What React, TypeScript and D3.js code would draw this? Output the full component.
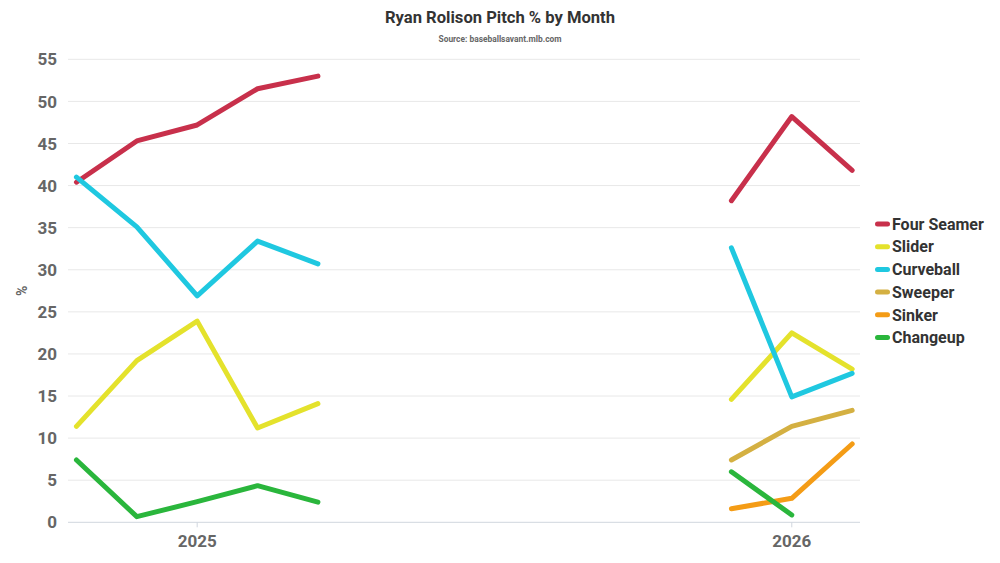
import React from "react";
import * as d3 from "d3";

// x positions: month index along a continuous axis (2025 season, then 2026 season)
const months2025 = [0, 1, 2, 3, 4];
const months2026 = [10.85, 11.85, 12.85];
const yearTicks = [2, 11.85];
const yearLabels = ["2025", "2026"];
const yTicks = [0, 5, 10, 15, 20, 25, 30, 35, 40, 45, 50, 55];

const seriesNames = ["Four Seamer", "Slider", "Curveball", "Sweeper", "Sinker", "Changeup"];
const seriesColors = ["#c8304b", "#e4e22c", "#1fc8e0", "#d4b042", "#f49c16", "#2ab63c"];

const fourSeamer2025 = [40.4, 45.3, 47.2, 51.5, 53.0];
const fourSeamer2026 = [38.2, 48.2, 41.8];
const slider2025 = [11.4, 19.2, 23.9, 11.2, 14.1];
const slider2026 = [14.6, 22.5, 18.2];
const curveball2025 = [41.0, 35.1, 26.9, 33.4, 30.7];
const curveball2026 = [32.6, 14.9, 17.7];
const sweeper2026 = [7.4, 11.4, 13.3];
const sinker2026 = [1.6, 2.85, 9.3];
const changeup2025 = [7.4, 0.67, 2.45, 4.35, 2.4];
const changeup2026 = [6.0, 0.87];

const segments: { name: string; xs: number[]; ys: number[] }[] = [
  { name: "Four Seamer", xs: months2025, ys: fourSeamer2025 },
  { name: "Four Seamer", xs: months2026, ys: fourSeamer2026 },
  { name: "Slider", xs: months2025, ys: slider2025 },
  { name: "Slider", xs: months2026, ys: slider2026 },
  { name: "Curveball", xs: months2025, ys: curveball2025 },
  { name: "Curveball", xs: months2026, ys: curveball2026 },
  { name: "Sweeper", xs: months2026, ys: sweeper2026 },
  { name: "Sinker", xs: months2026, ys: sinker2026 },
  { name: "Changeup", xs: months2025, ys: changeup2025 },
  { name: "Changeup", xs: months2026.slice(0, 2), ys: changeup2026 },
];

const W = 1000;
const H = 563;
const left = 68;
const right = 860;
const top = 59.3;
const bottom = 522.3;

export default function App() {
  const x = d3.scaleLinear().domain([-0.14, 12.98]).range([left, right]);
  const y = d3.scaleLinear().domain([0, 55]).range([bottom, top]);
  const color = d3.scaleOrdinal<string, string>().domain(seriesNames).range(seriesColors);
  const line = d3
    .line<[number, number]>()
    .x((d) => x(d[0]))
    .y((d) => y(d[1]));
  const font = "Roboto, 'Noto Sans', sans-serif";

  return (
    <svg
      width={W}
      height={H}
      style={{ position: "absolute", left: 0, top: 0, background: "#fff" }}
      fontFamily={font}
    >
      <text x={500} y={23} textAnchor="middle" fontSize={16} fontWeight={700} fill="#333"
        textLength={230} lengthAdjust="spacingAndGlyphs">
        Ryan Rolison Pitch % by Month
      </text>
      <text x={500} y={42} textAnchor="middle" fontSize={9} fontWeight={700} fill="#666"
        textLength={123} lengthAdjust="spacingAndGlyphs">
        Source: baseballsavant.mlb.com
      </text>

      {yTicks.map((t) => (
        <g key={t}>
          {t > 0 && (
            <line x1={left} x2={right} y1={y(t)} y2={y(t)} stroke="#e8e8e8" strokeWidth={1} />
          )}
          <text x={57} y={y(t)} dy="0.36em" textAnchor="end" fontSize={17} fontWeight={700} fill="#666">
            {t}
          </text>
        </g>
      ))}
      <line x1={left} x2={right} y1={y(0)} y2={y(0)} stroke="#d0d6de" strokeWidth={1} />
      {yearTicks.map((t, i) => (
        <g key={i}>
          <line x1={x(t)} x2={x(t)} y1={y(0)} y2={y(0) + 5} stroke="#d0d6de" strokeWidth={1} />
          <text x={x(t)} y={547} textAnchor="middle" fontSize={17} fontWeight={700} fill="#666">
            {yearLabels[i]}
          </text>
        </g>
      ))}
      <text transform={`translate(27,${(top + bottom) / 2}) rotate(-90)`} textAnchor="middle"
        fontSize={14} fontWeight={700} fill="#666">
        %
      </text>

      {segments.map((s, i) => (
        <path
          key={i}
          d={line(s.xs.map((v, j) => [v, s.ys[j]] as [number, number])) || ""}
          fill="none"
          stroke={color(s.name)}
          strokeWidth={5}
          strokeLinejoin="round"
          strokeLinecap="round"
        />
      ))}

      {seriesNames.map((n, i) => (
        <g key={n} transform={`translate(875,${224 + i * 22.7})`}>
          <rect x={0} y={-2.5} width={15} height={5} rx={2.5} fill={color(n)} />
          <text x={17} y={0} dy="0.36em" fontSize={16} fontWeight={700} fill="#333">
            {n}
          </text>
        </g>
      ))}
    </svg>
  );
}
